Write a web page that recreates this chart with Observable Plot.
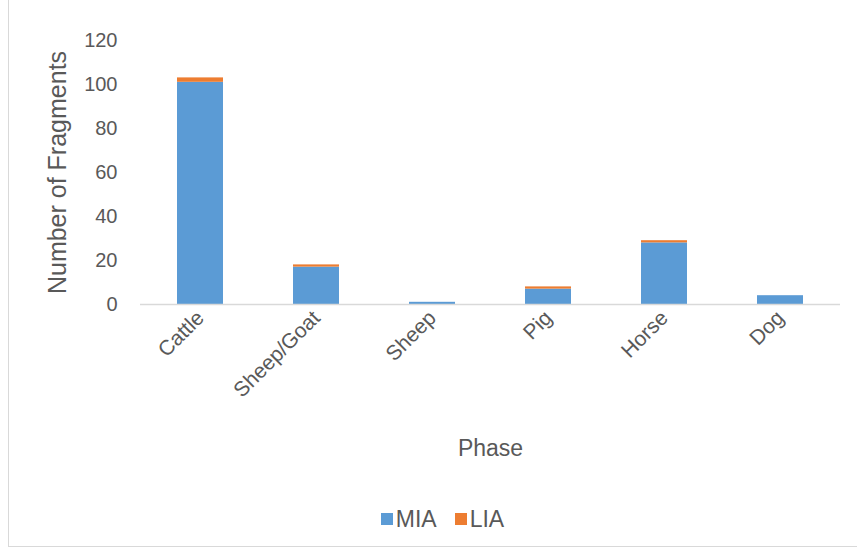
<!DOCTYPE html>
<html>
<head>
<meta charset="utf-8">
<script src="https://cdn.jsdelivr.net/npm/d3@7"></script>
<script src="https://cdn.jsdelivr.net/npm/@observablehq/plot@0.6"></script>
<style>
  html, body { margin: 0; padding: 0; background: #fff; }
  #frame { position: absolute; left: 8px; top: -1px; width: 860px; height: 548px; border: 1px solid #d9d9d9; box-sizing: border-box; }
  #chart { position: absolute; left: 0; top: 0; }
  #legend { position: absolute; left: 14px; top: 504px; width: 857px; text-align: center; font-family: "Liberation Sans", Arial, sans-serif; font-size: 23px; color: #595959; }
  .item { display: inline-flex; align-items: center; margin: 0 9px; }
  .sw { width: 12px; height: 12px; display: inline-block; margin-right: 3px; }
</style>
</head>
<body>
<div id="frame"></div>
<div id="chart"></div>
<div id="legend"></div>
<script>
const categories = ["Cattle", "Sheep/Goat", "Sheep", "Pig", "Horse", "Dog"];
const series = ["MIA", "LIA"];
const miaValues = [101, 17, 1, 7, 28, 4];
const liaValues = [2, 1, 0, 1, 1, 0];
const colors = ["#5B9BD5", "#ED7D31"];
const yTicks = [0, 20, 40, 60, 80, 100, 120];

const data = [];
categories.forEach((c, i) => {
  data.push({category: c, series: "MIA", value: miaValues[i]});
  data.push({category: c, series: "LIA", value: liaValues[i]});
});

const font = "Liberation Sans, Arial, sans-serif";
const plot = Plot.plot({
  width: 857,
  height: 495,
  marginLeft: 140,
  marginRight: 17,
  marginTop: 40,
  marginBottom: 191,
  style: {fontFamily: font, fontSize: "20px", color: "#595959", background: "transparent"},
  x: {domain: categories, paddingInner: 0.6, paddingOuter: 0.3, label: null},
  y: {domain: [0, 120], label: null},
  color: {domain: series, range: colors},
  marks: [
    Plot.axisY({ticks: yTicks, tickSize: 0, tickPadding: 23, label: null, fontSize: 20, fill: "#595959"}),
    Plot.axisX({tickSize: 0, tickRotate: -45, tickPadding: 10, label: null, fontSize: 21, fill: "#595959"}),
    Plot.barY(data, {x: "category", y: "value", fill: "series", order: series}),
    Plot.ruleY([0], {stroke: "#d9d9d9", strokeWidth: 1.5}),
    Plot.text(["Phase"], {frameAnchor: "bottom", dy: 151, fontSize: 23, fill: "#595959"}),
    Plot.text(["Number of Fragments"], {frameAnchor: "left", textAnchor: "middle", dx: -83, rotate: -90, fontSize: 25, fill: "#595959"})
  ]
});
document.getElementById("chart").appendChild(plot);

const legend = document.getElementById("legend");
series.forEach((s, i) => {
  const item = document.createElement("span");
  item.className = "item";
  const sw = document.createElement("span");
  sw.className = "sw";
  sw.style.background = colors[i];
  item.appendChild(sw);
  item.appendChild(document.createTextNode(s));
  legend.appendChild(item);
});
</script>
</body>
</html>
